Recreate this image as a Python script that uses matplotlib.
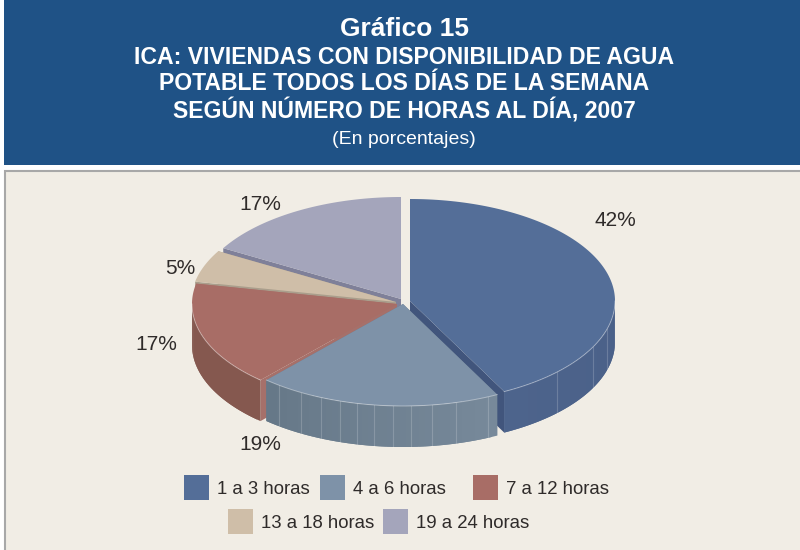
import numpy as np
import matplotlib
matplotlib.use('Agg')
import matplotlib.pyplot as plt
from matplotlib.colors import to_rgb
from matplotlib.patches import Polygon, Rectangle

plt.rcParams['font.family'] = ['Liberation Sans', 'DejaVu Sans']

title_lines = ['ICA: VIVIENDAS CON DISPONIBILIDAD DE AGUA',
               'POTABLE TODOS LOS DÍAS DE LA SEMANA',
               'SEGÚN NÚMERO DE HORAS AL DÍA, 2007']
labels = ['1 a 3 horas', '4 a 6 horas', '7 a 12 horas', '13 a 18 horas', '19 a 24 horas']
# slice sizes, the labels show them rounded
values = [42.4, 19.2, 16.6, 5.1, 16.7]
top_colors = ['#546e98', '#7e92a8', '#a86d66', '#cfbea8', '#a4a5bb']
cut_colors = ['#41557c', '#6a7c90', '#a6706a', '#aa9e8c', '#7f8099']
rim_left = ['#4d648c', '#667888', '#85584f', '#aa9e8c', '#7f8099']
rim_right = ['#4a6088', '#77899a', '#85584f', '#aa9e8c', '#7f8099']
centers = [(410, 301), (403, 304), (397, 304), (396, 302), (401, 299)]
pct_pos = [(615, 220.5), (260, 444.5), (156, 345), (180, 269), (260, 204.5)]
legend_pos = [(184, 475), (320, 475), (473, 475), (228, 509), (383, 509)]
rim_lines = [[134, 117, 106],
             [217.3, 209.8, 203.5, 197.8, 193, 188, 182.8, 177.7, 171.8, 165, 155.5],
             [], [], []]

RX, RY, DEPTH = 205, 102, 41
ink = '#2f2b2a'


def pt(c, t):
    t = np.radians(t)
    return c[0] + RX * np.sin(t), c[1] - RY * np.cos(t)


fig = plt.figure(figsize=(8, 5.5), dpi=100, facecolor='white')
ax = fig.add_axes([0, 0, 1, 1])
ax.set_xlim(0, 800)
ax.set_ylim(550, 0)
ax.axis('off')

# header and panel
ax.add_patch(Rectangle((4, 0), 796, 165, fc='#1f5286', ec='none'))
ax.add_patch(Rectangle((5, 171), 800, 385, fc='#f1ede5', ec='#a8a8a8', lw=1.5))
ax.text(404, 29, 'Gráfico 15', color='white', fontsize=19, fontweight='bold', ha='center', va='center')
for y, line in zip([57, 84, 111], title_lines):
    ax.text(404, y, line, color='white', fontsize=16.6, fontweight='bold', ha='center', va='center')
ax.text(404, 140, '(En porcentajes)', color='white', fontsize=14, ha='center', va='center')

# slices, clockwise from the top
ends = np.cumsum(values) * 3.6
starts = ends - np.array(values) * 3.6
for i in [4, 3, 2, 0, 1]:
    c = centers[i]
    a, b = starts[i], ends[i]
    # flat cut faces
    for t in (a, b):
        x, y = pt(c, t)
        ax.add_patch(Polygon([c, (x, y), (x, y + DEPTH), (c[0], c[1] + DEPTH)],
                             fc=cut_colors[i], ec='none'))
    # curved rim, front half only
    r0, r1 = max(a, 90), min(b, 270)
    if r0 < r1:
        ts = np.linspace(r0, r1, 40)
        for k in range(len(ts) - 1):
            # each band runs on under the next one so no seams show
            x0, y0 = pt(c, ts[k])
            x1, y1 = pt(c, ts[min(k + 2, len(ts) - 1)])
            xm, ym = pt(c, ts[k + 1])
            f = k / (len(ts) - 2)
            col = np.array(to_rgb(rim_right[i])) * (1 - f) + np.array(to_rgb(rim_left[i])) * f
            ax.add_patch(Polygon([(x0, y0), (xm, ym), (x1, y1), (x1, y1 + DEPTH), (xm, ym + DEPTH), (x0, y0 + DEPTH)],
                                 fc=col, ec='none'))
        for t in rim_lines[i]:
            x, y = pt(c, t)
            ax.plot([x, x], [y, y + DEPTH], color='white', alpha=0.18, lw=0.8)
        xs, ys = pt(c, ts)
        ax.plot(xs, ys, color='white', alpha=0.4, lw=0.7, zorder=3)
    ts = np.linspace(a, b, 120)
    xs, ys = pt(c, ts)
    ax.add_patch(Polygon(np.vstack([[c], np.column_stack([xs, ys])]), fc=top_colors[i], ec='none', zorder=2))

for (x, y), v in zip(pct_pos, values):
    ax.text(x, y, f'{v:.0f}%', color=ink, fontsize=15, ha='center', va='center', zorder=5)

# legend
for (x, y), lab, col in zip(legend_pos, labels, top_colors):
    ax.add_patch(Rectangle((x, y), 25, 25, fc=col, ec='none'))
    ax.text(x + 33, y + 14, lab, color=ink, fontsize=13.4, ha='left', va='center')

fig.savefig('out.png', dpi=100)
